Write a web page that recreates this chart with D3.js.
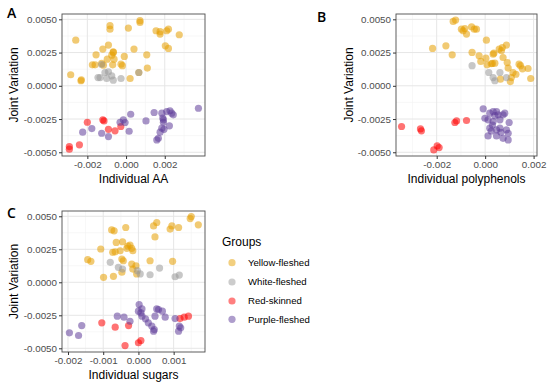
<!DOCTYPE html>
<html><head><meta charset="utf-8">
<script src="https://cdn.jsdelivr.net/npm/d3@7"></script>
<style>body{margin:0;background:#fff}svg{display:block;font-family:"Liberation Sans",Arial,sans-serif}</style>
</head><body><svg id="c" width="550" height="386"></svg>
<script>
// ---------- data ----------
const groups = ["Yellow-fleshed","White-fleshed","Red-skinned","Purple-fleshed"];
const groupColors = ["#E69F00","#999999","#FF0000","#5E3C99"];
const yTicks = [-0.005,-0.0025,0,0.0025,0.005];
const yTickLabels = ["-0.0050","-0.0025","0.0000","0.0025","0.0050"];

// Panel A: Individual AA vs Joint Variation
const aaYellow = [[-0.0026,0.00343],[-0.00083,0.00452],[-0.00083,0.00426],[0.00012,0.00434],[0.00072,0.0049],[0.00072,0.00477],
 [0.00155,0.00414],[0.00176,0.00407],[0.00176,0.00389],[0.0021,0.00414],[0.00219,0.00426],[0.00275,0.00384],[0.00203,0.00301],
 [0.00219,0.00281],[0.00107,0.00233],[0.00041,0.00276],[-0.00009,0.00221],[-0.00091,0.00306],[-0.0012,0.00276],[-0.00155,0.00233],
 [-0.00066,0.00251],[-0.00074,0.0023],[-0.00062,0.002],[-0.00097,0.002],[-0.00174,0.00158],[-0.0016,0.00158],[-0.00126,0.00168],
 [-0.00117,0.00155],[-0.00069,0.00158],[-0.00026,0.00163],[-0.00019,0.00151],[0.0011,0.00133],[-0.00286,0.00083],[-0.00233,0.00038],
 [-0.00231,0.00045],[0.00021,0.00055],[0.00066,0.001],[-0.00066,0.00255]];
const aaWhite = [[-0.00134,0.00062],[-0.00109,0.001],[-0.00091,0.00105],[-0.00074,0.00075],[-0.001,0.00055],[-0.00066,0.00042],
 [-0.00026,0.00055],[-0.00145,0.00062],[0.00066,0.001],[-0.00126,0.0016]];
const aaRed = [[-0.00293,-0.00457],[-0.00293,-0.00477],[-0.00241,-0.00444],[-0.002,-0.00274],[-0.0012,-0.00256],[-0.00114,-0.00264],
 [-0.00091,-0.00327],[-0.00057,-0.00339],[-0.00027,-0.00306]];
const aaPurple = [[-0.00224,-0.00349],[-0.00177,-0.00322],[-0.00126,-0.00357],[-0.00091,-0.00382],[-0.00031,-0.00274],[-0.00014,-0.00256],
 [-0.00005,-0.00276],[0.00024,-0.00214],[0.00016,-0.00342],[0.00103,-0.00264],[0.00145,-0.00201],[0.00185,-0.00206],[0.00193,-0.00256],
 [0.00193,-0.00274],[0.0021,-0.00194],[0.00227,-0.00188],[0.00236,-0.00206],[0.00244,-0.00218],[0.00185,-0.00319],[0.00196,-0.00327],
 [0.00176,-0.00349],[0.00167,-0.00395],[0.00159,-0.00407],[0.00224,-0.00301],[0.00374,-0.00169],[0.0019,-0.00243]];

// Panel B: Individual polyphenols vs Joint Variation
const polyYellow = [[-0.00132,0.00484],[-0.00122,0.00494],[-0.00098,0.00426],[-0.00091,0.00414],[-0.00077,0.00389],[-0.00056,0.00444],
 [-0.00045,0.00426],[-0.00036,0.00426],[-0.00084,0.00431],[0.00005,0.00343],[-0.00217,0.00281],[-0.00162,0.00301],[-0.00136,0.00233],
 [-0.00054,0.00251],[-0.00025,0.00226],[0.00003,0.00208],[0.00033,0.00238],[0.00036,0.00245],[0.00058,0.00276],[0.00071,0.00288],
 [0.00088,0.00306],[0.00074,0.00213],[0.00067,0.00264],[0.00091,0.00175],[0.00095,0.00133],[0.00008,0.00158],[0.0003,0.00168],
 [0.0004,0.0017],[0.00115,0.001],[0.00127,0.00087],[0.00108,0.00062],[0.00104,0.00032],[0.0014,0.00163],[0.00146,0.00151],
 [0.00177,0.0013],[0.00188,0.00055],[0.00063,0.0005],[-0.00018,0.00183],[0.00025,0.00166],[0.00154,0.00128]];
const polyWhite = [[-0.00054,0.00151],[0.00015,0.001],[0.00033,0.00062],[0.0004,0.00038],[0.00061,0.001],[0.00088,0.00062]];
const polyRed = [[-0.00345,-0.00306],[-0.00267,-0.00324],[-0.00263,-0.00339],[-0.00212,-0.00482],[-0.00198,-0.00452],[-0.0019,-0.00465],
 [-0.00125,-0.00276],[-0.00118,-0.00264],[-0.00077,-0.00261]];
const polyPurple = [[-0.00008,-0.00173],[0.00019,-0.00206],[0.00033,-0.00194],[0.00047,-0.00194],[0.00054,-0.00218],[0.00074,-0.00218],
 [0.00081,-0.00206],[-0.00001,-0.00244],[0.00012,-0.00256],[0.00033,-0.00269],[0.00061,-0.00256],[0.00099,-0.00276],[0.00019,-0.00319],
 [0.00047,-0.00331],[0.00061,-0.00319],[0.00088,-0.00331],[0.00095,-0.00357],[0.00012,-0.00377],[0.00047,-0.00377],[0.00074,-0.00395],
 [0.00095,-0.00407],[0.0004,-0.00225],[0.0003,-0.00295],[0.00065,-0.0035],[0.00025,-0.0034]];

// Panel C: Individual sugars vs Joint Variation
const sugYellow = [[0.0015,0.00498],[0.00147,0.00483],[0.0017,0.00435],[0.00043,0.00427],[0.00052,0.00453],[0.00047,0.00344],
 [0.0009,0.00403],[0.00095,0.00427],[0.00114,0.00415],[-0.00036,0.00415],[-0.00076,0.00397],[-0.00069,0.0039],[-0.00107,0.00252],
 [-0.00063,0.00302],[-0.00045,0.00307],[-0.00073,0.00227],[-0.00066,0.00231],[-0.00052,0.00239],[-0.00033,0.00257],[-0.00024,0.00282],
 [-0.00019,0.00257],[-0.00016,0.00239],[-0.00144,0.00171],[-0.00135,0.00159],[-0.00047,0.00176],[-0.00043,0.00163],[-0.00019,0.00138],
 [-0.00007,0.00125],[-0.00016,0.001],[0.00033,0.00163],[0.00097,0.00159],[-0.00099,0.00038],[-0.00071,0.00045],[-0.00047,0.00076],
 [-0.00005,0.00063],[-0.0003,0.00275]];
const sugWhite = [[-0.0008,0.00151],[-0.00057,0.00113],[-0.00045,0.001],[-0.00003,0.00088],[0.00005,0.00063],[0.00033,0.00057],
 [0.0006,0.00108],[0.00104,0.00042],[0.00116,0.00055]];
const sugRed = [[-0.00104,-0.00307],[-0.00066,-0.0034],[-0.00028,-0.00328],[-0.00038,-0.00479],[0,-0.00458],[0.00007,-0.00441],
 [0.00118,-0.00275],[0.0013,-0.00264],[0.00142,-0.00257]];
const sugPurple = [[-0.00196,-0.00383],[-0.0017,-0.00403],[-0.00161,-0.00328],[-0.0006,-0.00257],[-0.00041,-0.00264],[-0.00024,-0.00295],
 [0.00002,-0.00169],[0.0001,-0.00202],[0,-0.00219],[0.00007,-0.00232],[0.0001,-0.00257],[0.00028,-0.00307],[0.00038,-0.00332],
 [0.00045,-0.00358],[0.00043,-0.0037],[0.00052,-0.00202],[0.00057,-0.00207],[0.00068,-0.00219],[0.00047,-0.00257],[0.00076,-0.00264],
 [0.00104,-0.00275],[0.00114,-0.0037],[0.0012,-0.00345],[0.00116,-0.00332],[0.0002,-0.00277]];

const aaTicks = [-0.002,0,0.002], aaTickLabels = ["-0.002","0.000","0.002"];
const polyTicks = [-0.002,0,0.002], polyTickLabels = ["-0.002","0.000","0.002"];
const sugTicks = [-0.002,-0.001,0,0.001], sugTickLabels = ["-0.002","-0.001","0.000","0.001"];

// ---------- layout ----------
const panels = [
 {tag:"A", tagX:7, tagY:18, xTitle:"Individual AA", box:[62,14,205,156], xDom:[-0.00331,0.00408],
  ticks:aaTicks, labels:aaTickLabels, sets:[aaYellow,aaWhite,aaRed,aaPurple], yTitleX:17.5},
 {tag:"B", tagX:317, tagY:22, xTitle:"Individual polyphenols", box:[396,14,537,156], xDom:[-0.00368,0.00214],
  ticks:polyTicks, labels:polyTickLabels, sets:[polyYellow,polyWhite,polyRed,polyPurple], yTitleX:352.5},
 {tag:"C", tagX:7, tagY:218, xTitle:"Individual sugars", box:[62,211,205,352], xDom:[-0.00217,0.00189],
  ticks:sugTicks, labels:sugTickLabels, sets:[sugYellow,sugWhite,sugRed,sugPurple], yTitleX:17.5}
];
const yDom = [-0.00528,0.0054];
const svg = d3.select("#c");

function mids(t){const m=[];const step=t[1]-t[0];m.push(t[0]-step/2);for(let i=0;i<t.length;i++)m.push(t[i]+step/2);return m;}

panels.forEach(p=>{
  const [x0,y0,x1,y1]=p.box;
  const x=d3.scaleLinear().domain(p.xDom).range([x0,x1]);
  const y=d3.scaleLinear().domain(yDom).range([y1,y0]);
  const g=svg.append("g");
  // minor grid
  mids(p.ticks).filter(v=>v>p.xDom[0]&&v<p.xDom[1]).forEach(v=>
    g.append("line").attr("x1",x(v)).attr("x2",x(v)).attr("y1",y0).attr("y2",y1).attr("stroke","#f2f2f2").attr("stroke-width",0.6));
  mids(yTicks).filter(v=>v>yDom[0]&&v<yDom[1]).forEach(v=>
    g.append("line").attr("x1",x0).attr("x2",x1).attr("y1",y(v)).attr("y2",y(v)).attr("stroke","#f2f2f2").attr("stroke-width",0.6));
  // major grid
  p.ticks.forEach(v=>g.append("line").attr("x1",x(v)).attr("x2",x(v)).attr("y1",y0).attr("y2",y1).attr("stroke","#e6e6e6").attr("stroke-width",1));
  yTicks.forEach(v=>g.append("line").attr("x1",x0).attr("x2",x1).attr("y1",y(v)).attr("y2",y(v)).attr("stroke","#e6e6e6").attr("stroke-width",1));
  // points
  p.sets.forEach((set,gi)=>{
    g.append("g").selectAll("circle").data(set).join("circle")
      .attr("cx",d=>x(d[0])).attr("cy",d=>y(d[1])).attr("r",3.6)
      .attr("fill",groupColors[gi]).attr("fill-opacity",0.55);
  });
  // border
  g.append("rect").attr("x",x0).attr("y",y0).attr("width",x1-x0).attr("height",y1-y0)
    .attr("fill","none").attr("stroke","#4d4d4d").attr("stroke-width",0.9);
  // axes
  const xa=d3.axisBottom(x).tickValues(p.ticks).tickFormat((d,i)=>p.labels[i]).tickSize(3).tickPadding(2);
  const ga=g.append("g").attr("transform",`translate(0,${y1})`).call(xa);
  const ya=d3.axisLeft(y).tickValues(yTicks).tickFormat((d,i)=>yTickLabels[i]).tickSize(3).tickPadding(2);
  const gb=g.append("g").attr("transform",`translate(${x0},0)`).call(ya);
  [ga,gb].forEach(a=>{
    a.select(".domain").remove();
    a.selectAll(".tick line").attr("stroke","#333");
    a.selectAll(".tick text").attr("fill","#4d4d4d").style("font-size","9.8px").style("font-family","'Liberation Sans',Arial,sans-serif");
  });
  // titles
  g.append("text").attr("x",(x0+x1)/2).attr("y",y1+27).attr("text-anchor","middle")
    .style("font-size","12px").attr("fill","#000").text(p.xTitle);
  g.append("text").attr("transform",`translate(${p.yTitleX},${(y0+y1)/2}) rotate(-90)`).attr("text-anchor","middle")
    .style("font-size","12px").attr("fill","#000").text("Joint Variation");
  g.append("text").attr("x",p.tagX).attr("y",p.tagY).style("font-size","14px").style("font-weight","600")
    .style("font-family","'Open Sans',sans-serif").attr("fill","#000").text(p.tag);
});

// legend
const lg=svg.append("g");
lg.append("text").attr("x",222).attr("y",246).style("font-size","12px").attr("fill","#000").text("Groups");
const legendY=[262.7,282,301,319.3];
groups.forEach((name,i)=>{
  lg.append("circle").attr("cx",232).attr("cy",legendY[i]).attr("r",3.6).attr("fill",groupColors[i]).attr("fill-opacity",0.5);
  lg.append("text").attr("x",248).attr("y",legendY[i]+3.4).style("font-size","9.6px").attr("fill","#000").text(name);
});
</script></body></html>
